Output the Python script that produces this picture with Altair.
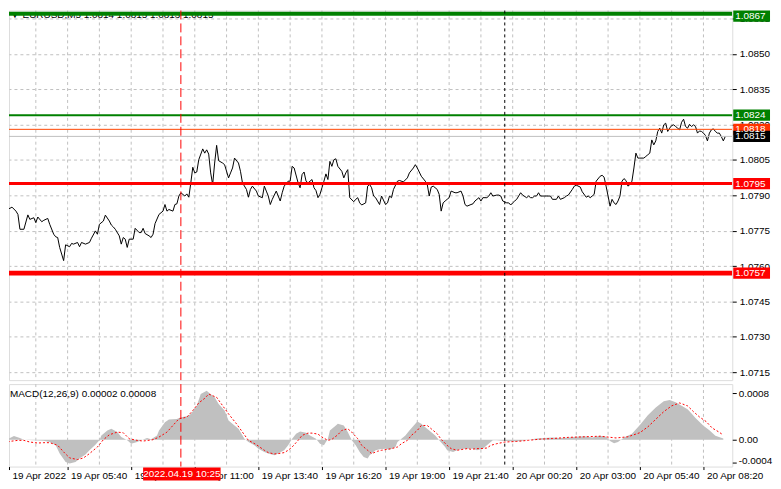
import altair as alt
import pandas as pd

# ---------------- data (minutes since 19 Apr 2022 00:00) ----------------
price_t = [180,185,195,200,210,215,220,230,240,245,255,260,265,275,280,290,295,305,310,315,
           320,330,335,345,350,355,365,370,375,385,395,400,410,415,420,430,435,445,450,455,
           460,470,475,480,485,490,495,505,510,520,525,530,535,545,550,555,560,570,580,585,
           590,595,605,610,615,620,625,635,640,645,650,655,660,665,670,680,685,690,695,700,
           705,710,715,720,730,735,745,750,755,760,770,775,780,790,795,800,805,815,820,830,
           835,840,845,850,855,865,870,875,880,885,895,900,905,910,920,925,930,935,940,945,
           955,960,965,970,975,980,985,990,995,1000,1005,1010,1015,1020,1030,1035,1040,1045,1050,1060,
           1065,1070,1075,1080,1090,1095,1100,1105,1110,1115,1125,1130,1140,1145,1150,1155,1160,1170,1175,1185,
           1195,1200,1210,1215,1220,1230,1240,1245,1250,1255,1260,1270,1275,1280,1285,1290,1295,1300,1305,1315,
           1320,1330,1335,1340,1345,1355,1360,1365,1375,1380,1385,1395,1400,1405,1410,1420,1425,1430,1435,1445,
           1450,1455,1460,1465,1470,1475,1480,1485,1495,1500,1505,1510,1515,1520,1525,1530,1540,1545,1555,1560,
           1570,1575,1580,1590,1595,1600,1610,1615,1620,1630,1635,1645,1650,1655,1660,1665,1670,1680,1685,1690,
           1695,1700,1705,1710,1715,1720,1725,1730,1735,1740,1745,1750,1755,1760,1765,1770,1775,1780,1790,1795,
           1800,1805,1810,1815,1820,1825,1830,1835,1840,1845,1850,1855,1860,1865,1870,1875,1880,1885,1890,1895,
           1900,1905,1910,1915,1920,1925,1930,1935,1940,1945,1950,1955,1960,1965,1970,1975,1980,1985,1990,1995]
price_v = [1.07784,1.07840,1.07845,1.07850,1.07833,1.07819,1.07756,1.07756,1.07817,1.07798,1.07805,1.07784,1.07808,1.07788,1.07794,1.07802,1.07777,1.07735,1.07724,1.07721,
           1.07679,1.07623,1.07690,1.07682,1.07696,1.07693,1.07700,1.07682,1.07700,1.07693,1.07700,1.07718,1.07749,1.07735,1.07777,1.07791,1.07816,1.07791,1.07774,1.07766,
           1.07756,1.07728,1.07693,1.07721,1.07714,1.07679,1.07714,1.07714,1.07760,1.07742,1.07742,1.07760,1.07738,1.07728,1.07721,1.07735,1.07780,1.07819,1.07833,1.07861,
           1.07833,1.07840,1.07833,1.07861,1.07864,1.07897,1.07911,1.07897,1.07906,1.07892,1.07953,1.08019,1.07995,1.07999,1.08051,1.08097,1.08079,1.08093,1.08075,1.07995,
           1.07946,1.08037,1.08112,1.08047,1.08037,1.08030,1.07974,1.07995,1.08016,1.08058,1.08037,1.08002,1.07953,1.07925,1.07892,1.07925,1.07939,1.07918,1.07897,1.07890,
           1.07939,1.07918,1.07897,1.07861,1.07883,1.07918,1.07897,1.07876,1.07911,1.07939,1.07960,1.07960,1.08023,1.08016,1.07953,1.07932,1.07988,1.07999,1.07960,1.07953,
           1.07967,1.07932,1.07920,1.07890,1.07904,1.07932,1.07960,1.07991,1.07967,1.08044,1.08023,1.08051,1.08055,1.08023,1.08002,1.07974,1.07995,1.08009,1.07890,1.07873,
           1.07883,1.07890,1.07868,1.07859,1.07868,1.07939,1.07946,1.07932,1.07897,1.07890,1.07861,1.07897,1.07861,1.07868,1.07897,1.07890,1.07925,1.07960,1.07963,1.07957,
           1.07974,1.07995,1.08016,1.08030,1.08016,1.07981,1.07960,1.07946,1.07897,1.07935,1.07939,1.07925,1.07904,1.07833,1.07868,1.07876,1.07883,1.07890,1.07918,1.07911,
           1.07911,1.07918,1.07897,1.07861,1.07854,1.07861,1.07864,1.07876,1.07890,1.07876,1.07890,1.07890,1.07897,1.07911,1.07897,1.07901,1.07901,1.07897,1.07876,1.07868,
           1.07868,1.07859,1.07868,1.07876,1.07883,1.07897,1.07911,1.07901,1.07890,1.07897,1.07890,1.07890,1.07897,1.07897,1.07911,1.07897,1.07897,1.07897,1.07897,1.07883,
           1.07883,1.07897,1.07883,1.07890,1.07897,1.07901,1.07925,1.07939,1.07943,1.07935,1.07915,1.07892,1.07897,1.07890,1.07897,1.07904,1.07960,1.07981,1.07985,1.07977,
           1.07939,1.07897,1.07854,1.07883,1.07868,1.07861,1.07876,1.07897,1.07960,1.07971,1.07963,1.07939,1.07946,1.07960,1.08016,1.08079,1.08058,1.08058,1.08058,1.08065,
           1.08072,1.08079,1.08135,1.08114,1.08131,1.08171,1.08185,1.08164,1.08199,1.08206,1.08171,1.08185,1.08196,1.08199,1.08192,1.08185,1.08178,1.08210,1.08223,1.08192,
           1.08185,1.08201,1.08192,1.08199,1.08192,1.08164,1.08173,1.08171,1.08164,1.08154,1.08131,1.08164,1.08178,1.08182,1.08171,1.08164,1.08164,1.08149,1.08131,1.08150]

macd_t = [180,195,205,220,230,255,280,295,310,320,335,345,360,370,385,395,410,420,425,440,
          450,465,475,490,500,515,525,540,550,565,570,585,595,615,625,640,650,665,675,690,
          695,710,720,735,745,760,770,785,795,810,820,835,845,860,870,885,895,905,915,925,
          940,950,965,975,985,995,1000,1015,1020,1035,1045,1055,1065,1075,1085,1095,1100,1115,1125,1140,
          1150,1165,1170,1180,1190,1200,1215,1220,1230,1240,1250,1265,1275,1290,1295,1310,1320,1335,1345,1360,
          1370,1385,1395,1410,1420,1440,1460,1480,1500,1520,1540,1560,1580,1600,1620,1640,1660,1680,1695,1705,
          1715,1725,1740,1760,1780,1800,1820,1840,1855,1870,1885,1900,1910,1920,1940,1955,1970,1990]
macd_v = [0.000006,0.000028,0.000062,0.000028,0.0,-0.000011,-0.000017,-0.00004,-0.000096,-0.000238,
          -0.00038,-0.000408,-0.00038,-0.000323,-0.000255,-0.000181,-0.000085,-0.000011,0.000074,0.000159,
          0.000187,0.00013,0.000045,-0.000011,-0.000068,-0.00004,-0.000011,0.000028,0.000006,0.000074,
          0.000159,0.0003,0.000346,0.000357,0.000386,0.000403,0.000442,0.000584,0.000782,0.000839,
          0.000811,0.000726,0.000612,0.0005,0.000329,0.000244,0.000187,0.000017,-0.00004,-0.000096,
          -0.000153,-0.00021,-0.000238,-0.000266,-0.000238,-0.000181,-0.000096,0.000017,0.000102,0.000142,
          0.000119,0.000074,0.000017,-0.000068,-0.000096,0.000017,0.000159,0.000244,0.000272,0.000244,
          0.00013,-0.000011,-0.000096,-0.00021,-0.000295,-0.000323,-0.000266,-0.000181,-0.000164,-0.000153,
          -0.00017,-0.000125,-0.00004,0.000017,0.000074,0.000159,0.000272,0.000312,0.000272,0.000215,
          0.000159,0.000074,-0.000011,-0.000125,-0.000181,-0.00021,-0.000181,-0.000153,-0.000153,-0.000153,
          -0.000181,-0.000153,-0.000096,-0.000011,-0.000011,-0.00002,-0.00003,-0.00002,0.0,0.00002,
          0.00003,0.00004,0.00003,0.00004,0.00005,0.00006,0.00004,0.00007,0.00005,-0.00002,
          -0.00006,-0.00004,0.00004,0.0001,0.00025,0.00042,0.00055,0.00066,0.00068,0.00064,
          0.00058,0.00052,0.00045,0.00037,0.00024,0.00016,0.00007,0.00002]

signal_t = [180,195,215,230,245,265,280,295,315,330,345,365,380,395,415,430,445,465,480,495,
            515,530,555,570,590,605,620,640,655,670,685,695,715,730,745,765,780,795,815,835,
            845,860,870,885,895,905,920,930,945,955,970,980,995,1005,1020,1030,1045,1055,1070,1080,
            1095,1105,1120,1130,1145,1155,1170,1180,1195,1205,1220,1230,1245,1255,1270,1280,1295,1305,1320,1330,
            1345,1355,1370,1380,1395,1405,1420,1440,1470,1500,1530,1560,1600,1640,1680,1720,1750,1780,1800,1820,
            1840,1860,1880,1900,1915,1930,1947,1962,1977,1990]
signal_v = [-0.000068,-0.000028,-0.000011,-0.000011,-0.00004,-0.000057,-0.000051,-0.000051,-0.000096,-0.00021,
            -0.000312,-0.00034,-0.000312,-0.000238,-0.000125,0.0,0.000085,0.00013,0.000119,0.000017,
            -0.000011,-0.000023,0.0,0.000045,0.00013,0.000244,0.000357,0.000386,0.0005,0.00063,
            0.000709,0.000782,0.000726,0.000584,0.000442,0.000272,0.00013,-0.000011,-0.000085,-0.000181,
            -0.000221,-0.000244,-0.000238,-0.000221,-0.000181,-0.000125,-0.000011,0.000074,0.000113,0.000113,
            0.000096,0.000045,-0.000011,0.000006,0.000085,0.000159,0.000187,0.00013,0.000017,-0.000096,
            -0.000181,-0.000238,-0.000198,-0.000181,-0.000164,-0.000153,-0.000125,-0.000068,-0.000011,0.000074,
            0.000159,0.000244,0.000244,0.000187,0.000102,0.000006,-0.000096,-0.000153,-0.000181,-0.00017,
            -0.000153,-0.000164,-0.000153,-0.000153,-0.000142,-0.000096,-0.000068,-0.00004,-0.00003,-0.00001,
            0.00001,0.00002,0.00004,0.00005,0.00006,0.00003,0.00005,0.00012,0.00022,0.00035,
            0.00048,0.00058,0.00063,0.00058,0.00048,0.00039,0.00031,0.0002,0.00014,0.00008]

level_values = [1.0867, 1.0824, 1.0818, 1.0815, 1.0795, 1.0757]
level_labels = ["1.0867", "1.0824", "1.0818", "1.0815", "1.0795", "1.0757"]
level_line_colors = ["#008000", "#008000", "#ff4500", "#c0c0c0", "#ff0000", "#ff0000"]
level_box_colors = ["#008000", "#008000", "#ff3300", "#000000", "#ff0000", "#ff0000"]
level_widths = [4, 2, 1, 1, 3, 5]

price_ticks = [1.0865, 1.0850, 1.0835, 1.0820, 1.0805, 1.0790, 1.0775, 1.0760, 1.0745, 1.0730, 1.0715]
price_tick_labels = ["1.0865", "1.0850", "1.0835", "1.0820", "1.0805", "1.0790", "1.0775",
                     "1.0760", "1.0745", "1.0730", "1.0715"]
macd_ticks = [0.0008, 0.0, -0.0004]
macd_tick_labels = ["0.0008", "0.00", "-0.0004"]
grid_times = [260, 340, 420, 500, 580, 660, 740, 820, 900, 980, 1060, 1140, 1220, 1300,
              1380, 1460, 1540, 1620, 1700, 1780, 1860, 1940]
label_times = [192.5, 340, 500, 660, 820, 980, 1140, 1300, 1460, 1620, 1780, 1940]
label_texts = ["19 Apr 2022", "19 Apr 05:40", "19 Apr 08:20", "19 Apr 11:00", "19 Apr 13:40",
               "19 Apr 16:20", "19 Apr 19:00", "19 Apr 21:40", "20 Apr 00:20", "20 Apr 03:00",
               "20 Apr 05:40", "20 Apr 08:20"]
marker_time = [625]          # 2022.04.19 10:25
day_sep_time = [1440]        # 20 Apr 00:00

X_DOMAIN = [192.5, 2012.5]
P_DOMAIN = [1.07116, 1.08684]
M_DOMAIN = [-0.00046, 0.000953]
W, H_MAIN, H_MACD = 728, 372, 83
FONT = "Liberation Sans"
BOX_HALF = 0.00024
TOP_LABEL_MAX = P_DOMAIN[1] - BOX_HALF

price_df = pd.DataFrame({"t": price_t, "v": price_v})
macd_df = pd.DataFrame({"t": macd_t, "v": macd_v})
sig_df = pd.DataFrame({"t": signal_t, "v": signal_v})
lev_df = pd.DataFrame({"v": level_values, "label": level_labels, "lc": level_line_colors,
                       "bc": level_box_colors, "w": level_widths})
grid_df = pd.DataFrame({"t": grid_times})

xs = alt.Scale(domain=X_DOMAIN, nice=False, zero=False)
ys = alt.Scale(domain=P_DOMAIN, nice=False, zero=False)
ms = alt.Scale(domain=M_DOMAIN, nice=False, zero=False)


def expr_for(labels, values):
    return "[" + ",".join("'%s'" % s for s in labels) + "][indexof([" + \
        ",".join(repr(v) for v in values) + "], datum.value)]"


# ---------------- main price panel ----------------
price_axis = alt.Axis(orient="right", values=price_ticks,
                      labelExpr=expr_for(price_tick_labels, price_ticks), grid=True,
                      gridColor="#c0c0c0", gridDash=[3, 3], domain=False, tickColor="black",
                      tickSize=4, labelPadding=3, labelFont=FONT, labelFontSize=10,
                      labelColor="black", labelOverlap=False, labelBound=False, title=None)

def PX(field):
    return alt.X(field, scale=xs, axis=None)

def PY(field):
    return alt.Y(field, scale=ys, axis=price_axis)

vgrid = alt.Chart(grid_df).mark_rule(color="#c0c0c0", strokeDash=[3, 3], strokeWidth=1).encode(
    x=PX("t:Q"))

price_line = alt.Chart(price_df).mark_line(color="black", strokeWidth=1, clip=True).encode(
    x=PX("t:Q"), y=PY("v:Q"))

levels = alt.Chart(lev_df).mark_rule(clip=True).encode(
    y=PY("v:Q"),
    color=alt.Color("lc:N", scale=None),
    strokeWidth=alt.StrokeWidth("w:Q", scale=None))

red_vline = alt.Chart(pd.DataFrame({"t": marker_time})).mark_rule(
    color="#ff0000", strokeDash=[9, 4], strokeWidth=1).encode(x=PX("t:Q"))
black_vline = alt.Chart(pd.DataFrame({"t": day_sep_time})).mark_rule(
    color="black", strokeDash=[3, 3], strokeWidth=1).encode(x=PX("t:Q"))

boxes = alt.Chart(lev_df).transform_calculate(
    c="min(datum.v, %r)" % TOP_LABEL_MAX,
    lo="datum.c - %r" % BOX_HALF, hi="datum.c + %r" % BOX_HALF).mark_rect().encode(
    y=PY("lo:Q"), y2="hi:Q",
    x=alt.value(729), x2=alt.value(766),
    color=alt.Color("bc:N", scale=None))
box_text = alt.Chart(lev_df).transform_calculate(
    c="min(datum.v, %r)" % TOP_LABEL_MAX).mark_text(
    align="left", baseline="middle", font=FONT, fontSize=10, color="white").encode(
    y=PY("c:Q"), x=alt.value(731), text="label:N")

title_df = pd.DataFrame({"txt": ["\u25bc  EURUSD,M5  1.0814 1.0815 1.0813 1.0815"]})
title_text = alt.Chart(title_df).mark_text(align="left", baseline="middle", font=FONT,
                                          fontSize=10, color="black").encode(
    x=alt.value(1), y=alt.value(5), text="txt:N")

main = alt.layer(vgrid, price_line, title_text, levels, red_vline, black_vline,
                 boxes, box_text).properties(width=W, height=H_MAIN)

# ---------------- MACD panel ----------------
x_axis = alt.Axis(orient="bottom", values=label_times,
                  labelExpr=expr_for(label_texts, label_times), grid=False,
                  domain=False, tickSize=3, tickColor="black", labelAlign="left",
                  labelOffset=3, labelPadding=1, labelFont=FONT, labelFontSize=10,
                  labelColor="black", labelOverlap=False, labelBound=False, title=None)
m_axis = alt.Axis(orient="right", values=macd_ticks,
                  labelExpr=expr_for(macd_tick_labels, macd_ticks), grid=False,
                  domain=False, tickSize=4, tickColor="black", labelPadding=2,
                  labelFont=FONT, labelFontSize=10, labelColor="black",
                  labelBaseline={"condition": {"test": "datum.value < 0", "value": "alphabetic"},
                                 "value": "middle"},
                  labelOverlap=False, labelBound=False, title=None)

def MX(field):
    return alt.X(field, scale=xs, axis=x_axis)

def MY(field):
    return alt.Y(field, scale=ms, axis=m_axis)

m_vgrid = alt.Chart(grid_df).mark_rule(color="#c0c0c0", strokeDash=[3, 3], strokeWidth=1).encode(
    x=MX("t:Q"))
hist = alt.Chart(macd_df).mark_area(color="#c0c0c0", clip=True).encode(
    x=MX("t:Q"), y=MY("v:Q"), y2=alt.datum(0))
sig = alt.Chart(sig_df).mark_line(color="#ff0000", strokeDash=[2, 2], strokeWidth=1,
                                  clip=True).encode(x=MX("t:Q"), y=MY("v:Q"))
m_red = alt.Chart(pd.DataFrame({"t": marker_time})).mark_rule(
    color="#ff0000", strokeDash=[9, 4], strokeWidth=1).encode(x=MX("t:Q"))
m_black = alt.Chart(pd.DataFrame({"t": day_sep_time})).mark_rule(
    color="black", strokeDash=[3, 3], strokeWidth=1).encode(x=MX("t:Q"))
macd_title = alt.Chart(pd.DataFrame({"txt": ["MACD(12,26,9) 0.00002 0.00008"]})).mark_text(
    align="left", baseline="middle", font=FONT, fontSize=10, color="black").encode(
    x=alt.value(1), y=alt.value(10), text="txt:N")

date_box_df = pd.DataFrame({"t0": [530], "t1": [725], "tc": [627.5],
                            "txt": ["2022.04.19 10:25"]})
date_box = alt.Chart(date_box_df).mark_rect(color="#ff0000").encode(
    x=MX("t0:Q"), x2="t1:Q", y=alt.value(84), y2=alt.value(97))
date_text = alt.Chart(date_box_df).mark_text(align="center", baseline="middle", font=FONT,
                                             fontSize=10, color="white").encode(
    x=MX("tc:Q"), y=alt.value(90.5), text="txt:N")

macd = alt.layer(m_vgrid, hist, sig, m_red, m_black, macd_title, date_box,
                 date_text).properties(width=W, height=H_MACD)

chart = alt.vconcat(main, macd, spacing=2).properties(
    padding={"left": 0, "top": 0, "right": 0, "bottom": 0}
).configure_view(stroke="black", strokeWidth=1).configure(background="white"
).configure_axis(labelOverlap=False)

chart.save("out.html", embed_options={"renderer": "svg", "actions": False})
